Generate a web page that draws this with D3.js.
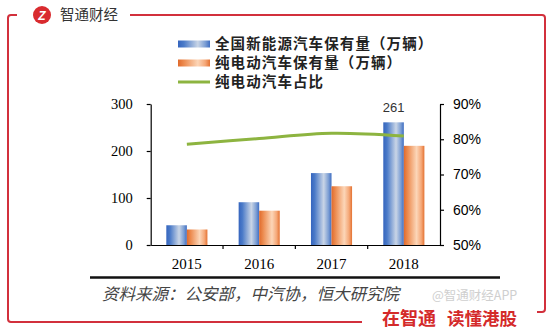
<!DOCTYPE html>
<html>
<head>
<meta charset="utf-8">
<script src="https://cdn.jsdelivr.net/npm/d3@7"></script>
<style>
  html, body { margin: 0; padding: 0; background: #fff; }
  svg { display: block; }
</style>
</head>
<body>
<svg id="chart" width="554" height="331"></svg>
<script>
// Data
const years = ["2015", "2016", "2017", "2018"];
const nevStock = [42, 91, 153, 261];        // 全国新能源汽车保有量（万辆）
const bevStock = [33, 73, 125, 211];        // 纯电动汽车保有量（万辆）
const bevShare = [78.6, 80.2, 81.7, 80.9];  // 纯电动汽车占比（%）
const leftTicks = [0, 100, 200, 300];
const rightTicks = [50, 60, 70, 80, 90];
const seriesNames = ["全国新能源汽车保有量（万辆）", "纯电动汽车保有量（万辆）", "纯电动汽车占比"];
const sourceText = "资料来源：公安部，中汽协，恒大研究院";

const svg = d3.select("#chart");
const defs = svg.append("defs");

// Bar gradients (horizontal sheen)
function sheen(id, stops) {
  const g = defs.append("linearGradient").attr("id", id)
    .attr("x1", "0%").attr("x2", "100%").attr("y1", "0%").attr("y2", "0%");
  stops.forEach(([o, c]) => g.append("stop").attr("offset", o).attr("stop-color", c));
}
sheen("gBlue", [["0%", "#3565BE"], ["18%", "#4A7AC8"], ["62%", "#C9D5E6"], ["85%", "#7D9FD4"], ["100%", "#3F6EC2"]]);
sheen("gOrange", [["0%", "#E06A2C"], ["18%", "#EC8A4E"], ["62%", "#FCD6B8"], ["85%", "#F5A878"], ["100%", "#E47232"]]);

const red = "#D2303C";

// Frame
const frame = svg.append("g").attr("fill", "none").attr("stroke", red).attr("stroke-width", 2);
frame.append("path").attr("d", "M17,15 H11 Q8,15 8,18 V319 Q8,322 11,322 H362");
frame.append("path").attr("d", "M130,15 H542 Q545,15 545,18 V309 Q545,312 542,312 H537");

// Header logo
svg.append("circle").attr("cx", 42).attr("cy", 15).attr("r", 9).attr("fill", "#D92B2F");
svg.append("text").attr("x", 42).attr("y", 19.5).attr("text-anchor", "middle")
  .attr("font-family", "Liberation Sans, Arial, sans-serif").attr("font-weight", "bold")
  .attr("font-style", "italic").attr("font-size", 12).attr("fill", "#fff").text("Z");
svg.append("text").attr("x", 60).attr("y", 20)
  .attr("font-family", "Noto Sans CJK SC, sans-serif").attr("font-size", 14.5)
  .attr("fill", "#333").text("智通财经");

// Scales
const plotL = 150.7, plotR = 440, y0 = 245, y1 = 104;
const x = d3.scaleBand().domain(years).range([plotL, plotR]).padding(0);
const xs = d3.scaleBand().domain(["nev", "bev"]).range([0, x.bandwidth()]).paddingInner(0).paddingOuter(0.76);
const yL = d3.scaleLinear().domain([0, 300]).range([y0, y1]);
const yR = d3.scaleLinear().domain([50, 90]).range([y0, y1]);

// Bars
const g = svg.append("g");
g.selectAll("rect.nev").data(years).join("rect").attr("class", "nev")
  .attr("x", d => x(d) + xs("nev")).attr("width", xs.bandwidth())
  .attr("y", (d, i) => yL(nevStock[i])).attr("height", (d, i) => y0 - yL(nevStock[i]))
  .attr("fill", "url(#gBlue)");
g.selectAll("rect.bev").data(years).join("rect").attr("class", "bev")
  .attr("x", d => x(d) + xs("bev")).attr("width", xs.bandwidth())
  .attr("y", (d, i) => yL(bevStock[i])).attr("height", (d, i) => y0 - yL(bevStock[i]))
  .attr("fill", "url(#gOrange)");

// Value label on the last blue bar
const last = years.length - 1;
svg.append("text")
  .attr("x", x(years[last]) + xs("nev") + xs.bandwidth() / 2)
  .attr("y", yL(nevStock[last]) - 10)
  .attr("text-anchor", "middle")
  .attr("font-family", "Liberation Sans, Arial, sans-serif").attr("font-size", 13)
  .attr("fill", "#333").text(nevStock[last]);

// Share line
const line = d3.line()
  .x((d, i) => x(years[i]) + x.bandwidth() / 2)
  .y(d => yR(d))
  .curve(d3.curveCatmullRom.alpha(0.5));
svg.append("path").datum(bevShare).attr("d", line)
  .attr("fill", "none").attr("stroke", "#8DB440").attr("stroke-width", 3);

// Axes
const axisStyle = sel => {
  sel.select(".domain").attr("stroke", "#000").attr("stroke-width", 1.2);
  sel.selectAll(".tick line").attr("stroke", "#000").attr("stroke-width", 1.2);
};
const axL = svg.append("g").attr("transform", `translate(${plotL},0)`)
  .call(d3.axisLeft(yL).tickValues(leftTicks).tickSize(4).tickSizeOuter(0).tickPadding(14));
axL.call(axisStyle);
axL.selectAll("text").attr("font-family", "Liberation Serif, Times New Roman, serif")
  .attr("font-size", 14.5).attr("fill", "#000");

const axR = svg.append("g").attr("transform", `translate(${plotR},0)`)
  .call(d3.axisRight(yR).tickValues(rightTicks).tickSize(4).tickSizeOuter(0).tickPadding(9)
    .tickFormat(d => d + "%"));
axR.call(axisStyle);
axR.selectAll("text").attr("font-family", "Liberation Sans, Arial, sans-serif")
  .attr("font-size", 14).attr("fill", "#000");

const axB = svg.append("g").attr("transform", `translate(0,${y0})`)
  .call(d3.axisBottom(x).tickSize(0).tickPadding(13));
axB.call(axisStyle);
axB.selectAll("text").attr("font-family", "Liberation Serif, Times New Roman, serif")
  .attr("font-size", 15).attr("fill", "#000");
// Category separators on the x axis
axB.selectAll("line.sep").data(years.slice(1)).join("line").attr("class", "sep")
  .attr("x1", d => x(d)).attr("x2", d => x(d)).attr("y1", 0).attr("y2", 4)
  .attr("stroke", "#000").attr("stroke-width", 1.2);

// Legend
const legend = svg.append("g").attr("font-family", "Noto Sans CJK SC, sans-serif")
  .attr("font-size", 14.5).attr("font-weight", "bold").attr("letter-spacing", 1.1).attr("fill", "#222");
const legY = [44, 63, 82];
legend.append("rect").attr("x", 178).attr("y", legY[0] - 3.5).attr("width", 32).attr("height", 7).attr("fill", "url(#gBlue)");
legend.append("rect").attr("x", 178).attr("y", legY[1] - 3.5).attr("width", 32).attr("height", 7).attr("fill", "url(#gOrange)");
legend.append("line").attr("x1", 178).attr("x2", 210).attr("y1", legY[2]).attr("y2", legY[2])
  .attr("stroke", "#8DB440").attr("stroke-width", 3);
seriesNames.forEach((s, i) => legend.append("text").attr("x", 215).attr("y", legY[i] + 5).text(s));

// Rule and source note
svg.append("line").attr("x1", 90).attr("x2", 500).attr("y1", 277.5).attr("y2", 277.5)
  .attr("stroke", "#111").attr("stroke-width", 2.5);
svg.append("text").attr("x", 102).attr("y", 299.5)
  .attr("font-family", "Noto Sans CJK SC, sans-serif").attr("font-size", 16.5)
  .attr("font-style", "italic").attr("fill", "#444")
  .text(sourceText);

// Footer
svg.append("text").attr("x", 432).attr("y", 299.5)
  .attr("font-family", "Noto Sans CJK SC, sans-serif").attr("font-size", 12.5)
  .attr("fill", "#c4c4c4").attr("opacity", 0.8).text("@智通财经APP");
svg.append("text").attr("x", 382).attr("y", 324.5)
  .attr("font-family", "Noto Sans CJK SC, sans-serif").attr("font-size", 18)
  .attr("font-weight", "bold").attr("fill", "#D42A2A").text("在智通");
svg.append("text").attr("x", 447).attr("y", 324.5)
  .attr("font-family", "Noto Sans CJK SC, sans-serif").attr("font-size", 17.5)
  .attr("font-weight", "bold").attr("fill", "#D42A2A").text("读懂港股");
</script>
</body>
</html>
